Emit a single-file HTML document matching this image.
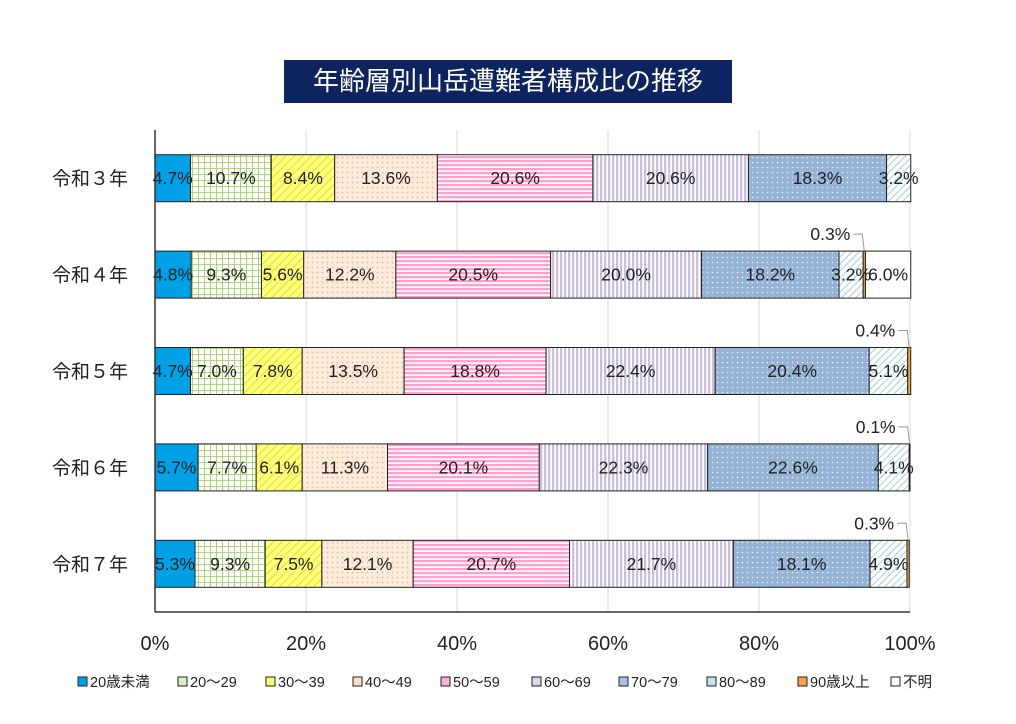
<!DOCTYPE html>
<html><head><meta charset="utf-8"><style>
body{margin:0;background:#fff;width:1016px;height:724px;overflow:hidden;font-family:"Liberation Sans","Noto Sans CJK JP",sans-serif}
#title{position:absolute;left:284px;top:60px;width:448px;height:43px;background:#0e2461;color:#fff;font-size:26px;line-height:43px;text-align:center;font-family:"Liberation Sans","Noto Sans CJK JP",sans-serif}
</style></head><body>
<div id="title">年齢層別山岳遭難者構成比の推移</div>
<svg id="chart" width="1016" height="724" style="position:absolute;left:0;top:0;pointer-events:none" xmlns="http://www.w3.org/2000/svg">
<defs>
<pattern id="p1" width="6" height="6" patternUnits="userSpaceOnUse"><rect width="6" height="6" fill="#fff"/><path d="M0 0H6M0 0V6" stroke="#92d050" stroke-width="1.6"/></pattern>
<pattern id="p2" width="6" height="6" patternUnits="userSpaceOnUse" patternTransform="rotate(45)"><rect width="6" height="6" fill="#ffff80"/><path d="M0 0V6" stroke="#e6e020" stroke-width="2"/></pattern>
<pattern id="p3" width="5" height="5" patternUnits="userSpaceOnUse"><rect width="5" height="5" fill="#fdebdc"/><circle cx="2.5" cy="2.5" r="0.9" fill="#e8b89a"/></pattern>
<pattern id="p4" width="4" height="4" patternUnits="userSpaceOnUse"><rect width="4" height="4" fill="#ffffff"/><rect width="4" height="2.3" fill="#ff9fd0"/></pattern>
<pattern id="p5" width="4" height="4" patternUnits="userSpaceOnUse"><rect width="4" height="4" fill="#fff"/><rect width="2.3" height="4" fill="#cbc0dc"/></pattern>
<pattern id="p6" width="5" height="5" patternUnits="userSpaceOnUse"><rect width="5" height="5" fill="#95b3d7"/><circle cx="2.5" cy="2.5" r="0.8" fill="#e8f0fa"/></pattern>
<pattern id="p7" width="5" height="5" patternUnits="userSpaceOnUse" patternTransform="rotate(45)"><rect width="5" height="5" fill="#fff"/><path d="M0 0V5" stroke="#a6d4e0" stroke-width="2.2"/></pattern>
</defs>
<g id="grid"></g><g id="bars"></g><g id="labels"></g><g id="axes"></g><g id="legend"></g>
</svg>
<script>
const categories=["令和３年","令和４年","令和５年","令和６年","令和７年"];
const seriesNames=["20歳未満","20～29","30～39","40～49","50～59","60～69","70～79","80～89","90歳以上","不明"];
const s0=[4.7,4.8,4.7,5.7,5.3];
const s1=[10.7,9.3,7.0,7.7,9.3];
const s2=[8.4,5.6,7.8,6.1,7.5];
const s3=[13.6,12.2,13.5,11.3,12.1];
const s4=[20.6,20.5,18.8,20.1,20.7];
const s5=[20.6,20.0,22.4,22.3,21.7];
const s6=[18.3,18.2,20.4,22.6,18.1];
const s7=[3.2,3.2,5.1,4.1,4.9];
const s8=[0,0.3,0.4,0.1,0.3];
const s9=[0,6.0,0,0,0];
const xTicks=[0,20,40,60,80,100];
const series=[s0,s1,s2,s3,s4,s5,s6,s7,s8,s9];
const fills=["#00a0e6","url(#p1)","url(#p2)","url(#p3)","url(#p4)","url(#p5)","url(#p6)","url(#p7)","#f5a340","#fff"];
const legFills=["#00a0e6","#d8efc0","#ffff70","#fbe0cc","#ffb0d8","#ddd5ea","#a8c2e0","#c4e4ee","#f5a340","#fff"];
const NS="http://www.w3.org/2000/svg";
const X0=155,X1=910,Y0=130,Y1=612;
const x=v=>X0+(X1-X0)*v/100;
const yBand=i=>Y0+(Y1-Y0)/categories.length*i;
const band=(Y1-Y0)/categories.length, bh=47;
function mk(t,a,p){const e=document.createElementNS(NS,t);for(const k in a)e.setAttribute(k,a[k]);p.appendChild(e);return e;}
const G=document.getElementById('grid'),B=document.getElementById('bars'),L=document.getElementById('labels'),A=document.getElementById('axes'),LG=document.getElementById('legend');
xTicks.forEach(t=>{
  if(t>0){const g=mk('line',{x1:x(t),x2:x(t),y1:Y0,y2:Y1,stroke:'#d9d9d9','stroke-width':1},G);
  
  }
  const tx=mk('text',{x:x(t),y:650,'text-anchor':'middle','font-size':20,fill:'#222'},A);tx.textContent=t+'%';
  
  
});
const ax=mk('line',{x1:X0,x2:X0,y1:Y0,y2:Y1,stroke:'#333','stroke-width':1.5},A);


const bx=mk('line',{x1:X0,x2:X1,y1:Y1,y2:Y1,stroke:'#333','stroke-width':1.5},A);


categories.forEach((c,i)=>{
  const yc=yBand(i)+band/2, yt=yc-bh/2;
  const ct=mk('text',{x:90,y:yc+7,'text-anchor':'middle','font-size':19,fill:'#222'},A);ct.textContent=c;
  
  
  let cum=0;
  series.forEach((s,k)=>{
    const v=s[i]; if(v<=0){return;}
    const r=mk('rect',{x:x(cum),y:yt,width:x(cum+v)-x(cum),height:bh,fill:fills[k],stroke:'#222','stroke-width':1},B);
    
    
    const mid=x(cum+v/2);
    if(k===8){
      const lx=mid;
      const t=mk('text',{x:lx-14,y:yt-11,'text-anchor':'end','font-size':17.5,fill:'#222'},L);t.textContent=v.toFixed(1)+'%';
      
      
      const p=mk('path',{d:`M${lx-11} ${yt-17}H${lx-2}L${lx} ${yt}`,fill:'none',stroke:'#999','stroke-width':1},L);
      
      
    } else {
      const t=mk('text',{x:mid,y:yc+6,'text-anchor':'middle','font-size':17.5,fill:'#222'},L);t.textContent=v.toFixed(1)+'%';
      
      
    }
    cum+=v;
  });
});
// legend
const legX=[78,178,266,353,441,532,619,707,798,891];
seriesNames.forEach((n,k)=>{
  const lx=legX[k];
  const r=mk('rect',{x:lx,y:677,width:9,height:9,fill:legFills[k],stroke:'#222','stroke-width':1},LG);
  
  
  const t=mk('text',{x:lx+12,y:687,'font-size':14.5,fill:'#222'},LG);t.textContent=n;
  
  
});
</script>
</body></html>
